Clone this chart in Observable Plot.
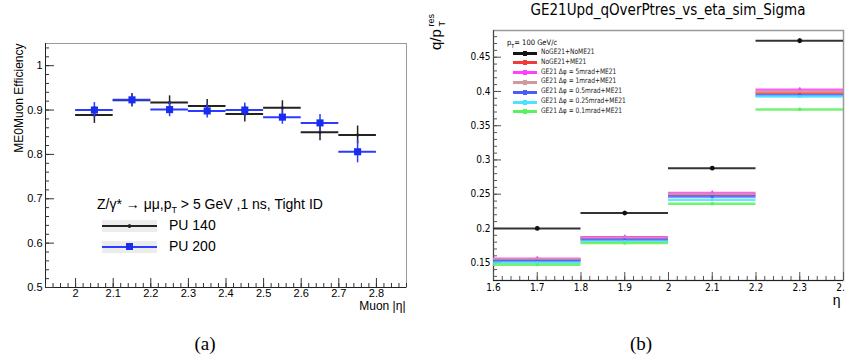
<!DOCTYPE html>
<html><head><meta charset="utf-8">
<script src="https://cdn.jsdelivr.net/npm/d3@7"></script>
<script src="https://cdn.jsdelivr.net/npm/@observablehq/plot@0.6"></script>
<style>
body{margin:0;background:#fff;}
#wrap{position:relative;width:845px;height:363px;overflow:hidden;font-family:"Liberation Sans",Arial,sans-serif;background:#fff;}
#wrap > svg{position:absolute;top:0;}
.abs{position:absolute;white-space:nowrap;}
.narrow{font-family:"Liberation Sans Narrow","DejaVu Sans Condensed","Liberation Sans",sans-serif;}
.lgA{position:absolute;width:55px;height:12px;background:#ececec;}
.lgA .ln{position:absolute;left:0;right:0;top:5px;height:2px;}
.lgB{position:absolute;width:24px;height:3px;}
.lgB .mk{position:absolute;left:10px;top:-1px;width:4px;height:5px;}
</style></head><body><div id="wrap"></div>
<script>
// ---------- Panel (a): ME0Muon efficiency vs |eta| ----------
const binLoA = [2.0, 2.1, 2.2, 2.3, 2.4, 2.5, 2.6, 2.7];
const binHiA = [2.1, 2.2, 2.3, 2.4, 2.5, 2.6, 2.7, 2.8];
const pu140 = [0.889, 0.922, 0.917, 0.909, 0.891, 0.905, 0.850, 0.844];
const pu140Err = [0.019, 0.015, 0.015, 0.015, 0.018, 0.016, 0.019, 0.020];
const pu200 = [0.900, 0.923, 0.901, 0.898, 0.900, 0.884, 0.871, 0.806];
const pu200Err = [0.017, 0.014, 0.016, 0.016, 0.016, 0.016, 0.019, 0.025];
const xTicksA = [2, 2.1, 2.2, 2.3, 2.4, 2.5, 2.6, 2.7, 2.8];
const xTickLabelsA = ["2", "2.1", "2.2", "2.3", "2.4", "2.5", "2.6", "2.7", "2.8"];
const yTicksA = [0.5, 0.6, 0.7, 0.8, 0.9, 1];
const yTickLabelsA = ["0.5", "0.6", "0.7", "0.8", "0.9", "1"];
const xDomA = [1.92, 2.88];
const yDomA = [0.5, 1.05];

// ---------- Panel (b): q/pT resolution vs eta ----------
const binLoB = [1.6, 1.8, 2.0, 2.2];
const binHiB = [1.8, 2.0, 2.2, 2.4];
const seriesB = ["NoGE21+NoME21", "NoGE21+ME21", "GE21 Δφ = 5mrad+ME21", "GE21 Δφ = 1mrad+ME21",
                 "GE21 Δφ = 0.5mrad+ME21", "GE21 Δφ = 0.25mrad+ME21", "GE21 Δφ = 0.1mrad+ME21"];
const colorsB = ["#151515", "#f23a3a", "#ff40ff", "#cf9a9a", "#4a5cff", "#4ee2ff", "#5cf05c"];
const resNoGE21NoME21 = [0.2000, 0.2225, 0.2880, 0.4740];
const resNoGE21ME21   = [0.1545, 0.1865, 0.2492, 0.3980];
const resGE21_5mrad   = [0.1558, 0.1872, 0.2516, 0.4024];
const resGE21_1mrad   = [0.1550, 0.1858, 0.2500, 0.4000];
const resGE21_05mrad  = [0.1524, 0.1836, 0.2468, 0.3945];
const resGE21_025mrad = [0.1500, 0.1810, 0.2419, 0.3925];
const resGE21_01mrad  = [0.1470, 0.1786, 0.2360, 0.3737];
const errB = [0.0025, 0.0025, 0.003, 0.002, 0.002, 0.002, 0.002];
const xTicksB = [1.6, 1.7, 1.8, 1.9, 2, 2.1, 2.2, 2.3, 2.4];
const xTickLabelsB = ["1.6", "1.7", "1.8", "1.9", "2", "2.1", "2.2", "2.3", "2.4"];
const yTicksB = [0.15, 0.2, 0.25, 0.3, 0.35, 0.4, 0.45];
const yTickLabelsB = ["0.15", "0.2", "0.25", "0.3", "0.35", "0.4", "0.45"];
const xDomB = [1.6, 2.4];
const yDomB = [0.124, 0.489];

const wrap = document.getElementById("wrap");

// minor tick positions (axis decoration only)
function minor(lo, hi, step) {
  const out = [];
  for (let v = Math.ceil(lo / step - 1e-9) * step; v <= hi + 1e-9; v += step) out.push(+v.toFixed(4));
  return out;
}

// ---- Plot A ----
const dataA = binLoA.map((lo, i) => ({lo, hi: binHiA[i], mid: (lo + binHiA[i]) / 2,
  v140: pu140[i], e140: pu140Err[i], v200: pu200[i], e200: pu200Err[i]}));

const plotA = Plot.plot({
  width: 420, height: 320,
  marginTop: 43, marginLeft: 45, marginRight: 14, marginBottom: 33,
  style: {fontFamily: "Liberation Sans, Arial, sans-serif", fontSize: "11px", color: "#000", background: "transparent", overflow: "visible"},
  x: {domain: xDomA, label: null},
  y: {domain: yDomA, label: null},
  marks: [
    Plot.frame({stroke: "#9a9a9a"}),
    Plot.ruleX([xDomA[0]], {stroke: "#222"}),
    Plot.ruleY([yDomA[0]], {stroke: "#222"}),
    Plot.axisY({ticks: minor(0.5, 1.04, 0.02), tickSize: -4, text: null, stroke: "#333", label: null}),
    Plot.axisY({ticks: yTicksA, tickSize: -9, text: null, stroke: "#333", label: null}),
    Plot.axisY({ticks: yTicksA, tickSize: 0, tickPadding: 3, tickFormat: (d, i) => yTickLabelsA[i], label: null}),
    Plot.axisX({ticks: minor(1.92, 2.88, 0.02), tickSize: -4, text: null, stroke: "#333", label: null}),
    Plot.axisX({ticks: xTicksA, tickSize: -9, text: null, stroke: "#333", label: null}),
    Plot.axisX({ticks: xTicksA, tickSize: 0, tickPadding: 2, tickFormat: (d, i) => xTickLabelsA[i], label: null}),
    // PU 140 (black)
    Plot.ruleY(dataA, {y: "v140", x1: "lo", x2: "hi", stroke: "#222", strokeWidth: 2}),
    Plot.ruleX(dataA, {x: "mid", y1: d => d.v140 - d.e140, y2: d => d.v140 + d.e140, stroke: "#222", strokeWidth: 1.5}),
    Plot.dot(dataA, {x: "mid", y: "v140", r: 1.6, fill: "#222"}),
    // PU 200 (blue)
    Plot.ruleY(dataA, {y: "v200", x1: "lo", x2: "hi", stroke: "#2a3cff", strokeWidth: 2}),
    Plot.ruleX(dataA, {x: "mid", y1: d => d.v200 - d.e200, y2: d => d.v200 + d.e200, stroke: "#2a3cff", strokeWidth: 1.5}),
    Plot.dot(dataA, {x: "mid", y: "v200", r: 4, symbol: "square", fill: "#1a2cf0"}),
    Plot.text(["ME0Muon Efficiency"], {frameAnchor: "top-left", text: d => d, rotate: -90, textAnchor: "end", dx: -31, dy: 0, fontSize: 12}),
    Plot.text(["Muon |η|"], {frameAnchor: "bottom-right", text: d => d, textAnchor: "end", dx: -1, dy: 22, fontSize: 12})
  ]
});
plotA.style.left = "0px";
wrap.appendChild(plotA);

// ---- Plot B ----
const resB = [resNoGE21NoME21, resNoGE21ME21, resGE21_5mrad, resGE21_1mrad, resGE21_05mrad, resGE21_025mrad, resGE21_01mrad];
const dataB = [];
seriesB.forEach((s, k) => binLoB.forEach((lo, i) => dataB.push({s, k, lo, hi: binHiB[i], mid: (lo + binHiB[i]) / 2, v: resB[k][i], e: errB[k]})));
const colorScaleB = {domain: seriesB, range: colorsB};
const colored = dataB.filter(d => d.k > 0);
const black = dataB.filter(d => d.k === 0);

const plotB = Plot.plot({
  width: 425, height: 300,
  marginTop: 30, marginLeft: 73, marginRight: 2, marginBottom: 20,
  style: {fontFamily: "Liberation Sans Narrow, DejaVu Sans Condensed, Liberation Sans, sans-serif", fontSize: "10px", color: "#000", background: "transparent", overflow: "visible"},
  x: {domain: xDomB, label: null},
  y: {domain: yDomB, label: null},
  color: colorScaleB,
  marks: [
    Plot.frame({stroke: "#9a9a9a", strokeWidth: 1.5}),
    Plot.ruleX([xDomB[0]], {stroke: "#444"}),
    Plot.ruleY([yDomB[0]], {stroke: "#222"}),
    Plot.axisY({ticks: minor(0.13, 0.48, 0.01), tickSize: -4, text: null, stroke: "#555", label: null}),
    Plot.axisY({ticks: yTicksB, tickSize: -8, text: null, stroke: "#555", label: null}),
    Plot.axisY({ticks: yTicksB, tickSize: 0, tickPadding: 3, tickFormat: (d, i) => yTickLabelsB[i], label: null}),
    Plot.axisX({ticks: minor(1.6, 2.4, 0.02), tickSize: -4, text: null, stroke: "#555", label: null}),
    Plot.axisX({ticks: xTicksB, tickSize: -8, text: null, stroke: "#555", label: null}),
    Plot.axisX({ticks: xTicksB, tickSize: 0, tickPadding: 3, tickFormat: (d, i) => xTickLabelsB[i], label: null}),
    Plot.ruleY(colored, {y: "v", x1: "lo", x2: "hi", stroke: "s", strokeWidth: 2.5, strokeOpacity: 0.85}),
    Plot.ruleX(colored, {x: "mid", y1: d => d.v - d.e, y2: d => d.v + d.e, stroke: "s", strokeWidth: 1.5}),
    Plot.dot(colored, {x: "mid", y: "v", r: 1.6, symbol: "square", fill: "s"}),
    Plot.ruleY(black, {y: "v", x1: "lo", x2: "hi", stroke: "#333", strokeWidth: 2}),
    Plot.ruleX(black, {x: "mid", y1: d => d.v - d.e, y2: d => d.v + d.e, stroke: "#111", strokeWidth: 1.5}),
    Plot.dot(black, {x: "mid", y: "v", r: 2.4, fill: "#111"}),
    Plot.text(["η"], {frameAnchor: "bottom-right", text: d => d, textAnchor: "end", dx: -3, dy: 24, fontSize: 14, fontFamily: "Liberation Sans, sans-serif"})
  ]
});
plotB.style.left = "420px";
wrap.appendChild(plotB);

// ---- HTML overlays: titles, legends, captions ----
function add(html, css, cls) {
  const d = document.createElement("div");
  d.className = "abs " + (cls || "");
  d.innerHTML = html;
  Object.assign(d.style, css);
  wrap.appendChild(d);
  return d;
}

// Panel (a) legend
add("Z/γ* → μμ,p<sub style='font-size:9px;vertical-align:-4px'>T</sub> &gt; 5 GeV ,1 ns, Tight ID", {left: "97px", top: "196px", fontSize: "14px"});
const lgNames = ["PU 140", "PU 200"];
const lgCols = ["#222", "#2a3cff"];
lgNames.forEach((n, i) => {
  const y = 226 + i * 21;
  const box = document.createElement("div");
  box.className = "lgA";
  box.style.left = "102px"; box.style.top = (y - 6) + "px";
  box.innerHTML = `<div class="ln" style="background:${lgCols[i]}"></div>` +
    (i === 0 ? `<div style="position:absolute;left:26px;top:4px;width:3px;height:4px;background:#222;border-radius:2px"></div>`
             : `<div style="position:absolute;left:24px;top:2px;width:7px;height:7px;background:#1a2cf0"></div>`);
  wrap.appendChild(box);
  add(n, {left: "169px", top: (y - 9) + "px", fontSize: "14px"});
});

// Panel (b) title
add("GE21Upd_qOverPtres_vs_eta_sim_Sigma", {left: "668px", top: "1px", fontSize: "15px", transform: "translateX(-50%)"}, "narrow");

// Panel (b) y label: q/p_T^res (rotated, stacked sub/sup)
add(`<svg width="24" height="40" style="overflow:visible">
  <g transform="translate(17,40) rotate(-90)" font-family="Liberation Sans, sans-serif" fill="#000">
    <text x="0" y="0" font-size="15">q/p</text>
    <text x="23.5" y="4" font-size="9">T</text>
    <text x="23.5" y="-7" font-size="9">res</text>
  </g></svg>`, {left: "424px", top: "10px"});

// Panel (b) legend
add("p<sub style='font-size:5.5px'>T</sub>= 100 GeV/c", {left: "507px", top: "38px", fontSize: "7.5px"}, "narrow");
seriesB.forEach((s, k) => {
  const y = 52.5 + k * 9.8;
  const ln = document.createElement("div");
  ln.className = "lgB";
  ln.style.left = "513px"; ln.style.top = (y - 1) + "px"; ln.style.background = colorsB[k];
  ln.innerHTML = `<div class="mk" style="background:${colorsB[k]}"></div>`;
  wrap.appendChild(ln);
  add(s, {left: "541px", top: (y - 5.5) + "px", fontSize: "7.5px", color: "#222", transform: "scaleX(0.88)", transformOrigin: "left center"}, "narrow");
});

// captions
add("(a)", {left: "205px", top: "333px", fontSize: "19px", fontFamily: "Liberation Serif, serif", transform: "translateX(-50%)"});
add("(b)", {left: "641px", top: "333px", fontSize: "19px", fontFamily: "Liberation Serif, serif", transform: "translateX(-50%)"});
</script></body></html>
